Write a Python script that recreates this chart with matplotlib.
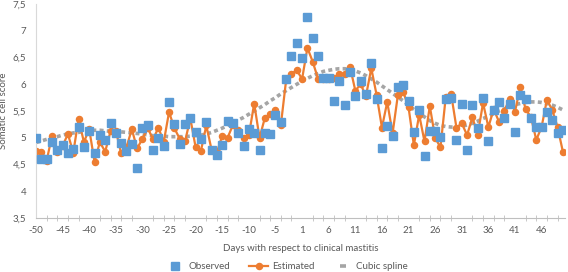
import numpy as np
import matplotlib.pyplot as plt
from matplotlib.lines import Line2D

plt.rcParams['font.family'] = ['Lato', 'DejaVu Sans']

# days -50..-1 and 1..50 (no day 0)
days = list(range(-50, 0)) + list(range(1, 51))

observed = [4.99, 4.60, 4.60, 4.92, 4.78, 4.86, 4.72, 4.79, 5.20, 4.82,
            5.12, 4.71, 5.05, 4.96, 5.27, 5.09, 4.91, 4.75, 4.88, 4.44,
            5.19, 5.23, 4.77, 5.00, 4.85, 5.66, 5.26, 4.88, 5.26, 5.36,
            5.10, 4.97, 5.29, 4.77, 4.68, 4.86, 5.32, 5.28, 5.08, 4.85,
            5.16, 5.09, 4.77, 5.09, 5.07, 5.42, 5.30, 6.09, 6.52, 6.78,
            6.50, 7.26, 6.87, 6.53, 6.11, 6.12, 5.69, 6.07, 5.61, 6.23,
            5.78, 6.07, 5.82, 6.40, 5.72, 4.80, 5.22, 5.03, 5.95, 5.99,
            5.69, 5.11, 5.52, 4.66, 5.13, 5.13, 5.01, 5.72, 5.74, 4.96,
            5.64, 4.77, 5.61, 5.18, 5.74, 4.93, 5.52, 5.66, 5.36, 5.64,
            5.10, 5.79, 5.72, 5.36, 5.21, 5.21, 5.49, 5.34, 5.08, 5.15]

estimated = [4.76, 4.73, 4.57, 5.03, 4.73, 4.85, 5.07, 4.72, 5.35, 4.92,
             5.16, 4.55, 4.92, 4.74, 5.12, 5.13, 4.71, 4.82, 5.16, 4.80,
             4.98, 5.18, 4.97, 5.19, 4.92, 5.48, 5.18, 4.98, 4.93, 5.36,
             4.82, 4.76, 5.23, 4.77, 4.73, 5.04, 5.00, 5.24, 5.15, 4.99,
             5.05, 5.64, 5.00, 5.37, 5.44, 5.52, 5.23, 6.08, 6.20, 6.26,
             6.10, 6.68, 6.42, 6.10, 6.09, 6.10, 6.12, 6.19, 6.20, 6.33,
             5.88, 6.00, 5.78, 6.30, 5.80, 5.19, 5.67, 5.08, 5.80, 5.86,
             5.57, 4.86, 5.43, 4.93, 5.59, 5.00, 4.82, 5.77, 5.82, 5.19,
             5.27, 5.05, 5.38, 5.06, 5.65, 5.20, 5.53, 5.30, 5.50, 5.73,
             5.49, 5.94, 5.53, 5.39, 4.96, 5.20, 5.71, 5.52, 5.20, 4.74]

spline = [4.91, 4.94, 4.97, 5.00, 5.02, 5.05, 5.07, 5.09, 5.10, 5.12,
          5.13, 5.14, 5.14, 5.13, 5.12, 5.12, 5.11, 5.10, 5.09, 5.08,
          5.07, 5.05, 5.04, 5.03, 5.03, 5.02, 5.02, 5.02, 5.02, 5.03,
          5.04, 5.05, 5.07, 5.10, 5.14, 5.18, 5.23, 5.28, 5.33, 5.38,
          5.44, 5.50, 5.56, 5.62, 5.69, 5.75, 5.82, 5.88, 5.94, 6.00,
          6.06, 6.11, 6.16, 6.20, 6.24, 6.26, 6.28, 6.29, 6.29, 6.28,
          6.25, 6.21, 6.16, 6.10, 6.04, 5.97, 5.90, 5.83, 5.76, 5.69,
          5.61, 5.53, 5.46, 5.39, 5.32, 5.27, 5.23, 5.21, 5.20, 5.20,
          5.21, 5.24, 5.27, 5.31, 5.36, 5.40, 5.45, 5.50, 5.54, 5.58,
          5.62, 5.64, 5.66, 5.67, 5.67, 5.66, 5.64, 5.61, 5.57, 5.52]

yticks = [3.5, 4, 4.5, 5, 5.5, 6, 6.5, 7, 7.5]

blue = '#5B9BD5'
orange = '#ED7D31'
gray = '#A5A5A5'
txt = '#595959'

fig = plt.figure(figsize=(5.68, 2.72), dpi=100)
ax = fig.add_axes([36 / 568, 54 / 272, 529 / 568, 214 / 272])

idx = np.arange(len(days))
ax.plot(idx, spline, color=gray, lw=2.6, dashes=(1.1, 0.9), zorder=1)
ax.plot(idx, estimated, color=orange, lw=1.6, marker='o', ms=4.4, zorder=2)
ax.plot(idx, observed, ls='none', marker='s', ms=5.2, color=blue, zorder=3)

ax.set_xlim(0, 99.4)
ax.set_ylim(3.5, 7.5)
ax.set_yticks(yticks)
ax.set_yticklabels([('%g' % v).replace('.', ',') for v in yticks])

lab_idx = idx[::5]
ax.set_xticks(lab_idx)
ax.set_xticklabels([str(days[i]) for i in lab_idx])
ax.set_xticks(idx[::2], minor=True)
ax.tick_params(axis='x', which='major', length=0, labelsize=7,
               colors=txt, pad=6)
ax.tick_params(axis='x', which='minor', length=4, direction='inout',
               color='#BFBFBF')
ax.tick_params(axis='y', length=0, labelsize=7, colors=txt, pad=7)

for s in ['top', 'right']:
    ax.spines[s].set_visible(False)
ax.spines['left'].set_color('#D9D9D9')
ax.spines['bottom'].set_color('#BFBFBF')

ax.set_xlabel('Days with respect to clinical mastitis', fontsize=7,
              color=txt, labelpad=6)
ax.set_ylabel('Somatic cell score', fontsize=7, color=txt)
ax.yaxis.set_label_coords(-28 / 529, 0.5)

handles = [
    Line2D([], [], ls='none', marker='s', ms=5.2, color=blue),
    Line2D([], [], color=orange, lw=1.6, marker='o', ms=4.4),
    Line2D([], [], ls='none', marker='_', ms=4, mew=2.6, color=gray),
]
fig.legend(handles, ['Observed', 'Estimated', 'Cubic spline'],
           loc='center', bbox_to_anchor=(0.505, 0.02), ncol=3,
           frameon=False, fontsize=7, labelcolor=txt,
           handlelength=1.9, columnspacing=2.0, handletextpad=0.4)

fig.savefig('out.png', dpi=100)
